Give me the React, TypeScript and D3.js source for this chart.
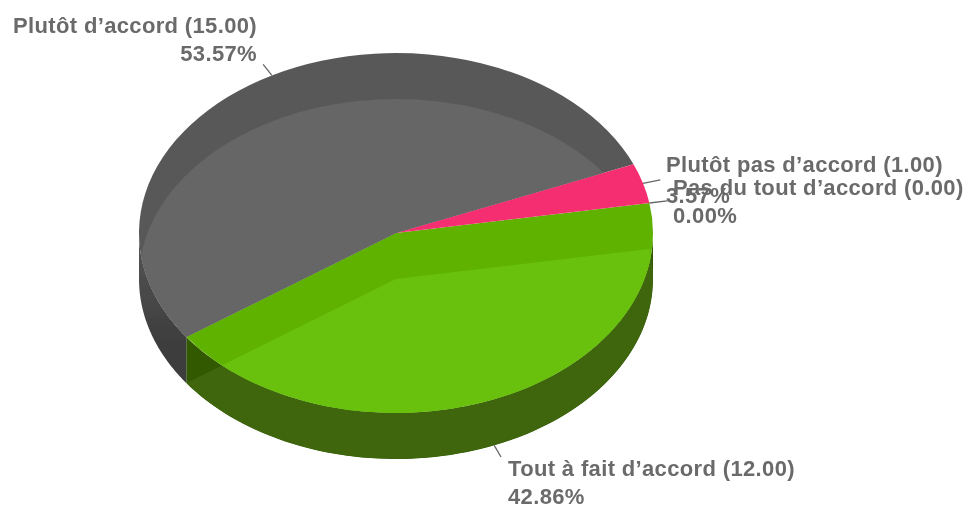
import React from 'react';
import * as d3 from 'd3';

// chart values
const categories = ["Tout à fait d’accord", "Plutôt d’accord", "Plutôt pas d’accord", "Pas du tout d’accord"];
const counts = [12, 15, 1, 0];
const percents = ["42.86%", "53.57%", "3.57%", "0.00%"];
const bandColors = ["#5eb300", "#595959", "#f42f6f", "#5eb300"];
const faceColors = ["#6ac10f", "#666666", "#f42f6f", "#6ac10f"];
const wallColors = ["#3f6610", "url(#greyWall)", "#8a1a40", "#3f6610"];
const wallInnerColor = "#305800";

const width = 970;
const height = 507;
const cx = 396;
const cy = 233;
const rx = 257;
const ry = 180;
const depth = 46;
const startAngle = (80.4 * Math.PI) / 180;

// label placement, one per category
const labelPos = [
  { x: 508, y: 476, y2: 504, anchor: "start" },
  { x: 257, y: 33, y2: 61, anchor: "end" },
  { x: 666, y: 172, y2: 203, anchor: "start" },
  { x: 673, y: 195, y2: 223, anchor: "start" },
];

const pie = d3.pie<number>().sort(null).startAngle(startAngle).endAngle(startAngle + 2 * Math.PI);
const arcs = pie(counts);
const arc = d3.arc<d3.PieArcDatum<number>>().innerRadius(0).outerRadius(rx);

const ellipseX = (a: number, k = 1) => cx + rx * k * Math.sin(a);
const ellipseY = (a: number, k = 1) => cy - ry * k * Math.cos(a);

// side wall of a slice, only the front half of the ellipse shows
const wallPath = (d: d3.PieArcDatum<number>) => {
  const pieces: string[] = [];
  const area = d3.area<number>()
    .x(a => ellipseX(a))
    .y0(a => ellipseY(a))
    .y1(a => ellipseY(a) + depth);
  [0, 2 * Math.PI].forEach(turn => {
    const from = Math.max(d.startAngle, Math.PI / 2 + turn);
    const to = Math.min(d.endAngle, (3 * Math.PI) / 2 + turn);
    if (to > from) {
      const steps = d3.range(0, 81).map(i => from + ((to - from) * i) / 80);
      pieces.push(area(steps) as string);
    }
  });
  return pieces.join(" ");
};

export default function App() {
  const sy = ry / rx;
  return (
    <svg width={width} height={height} style={{ position: 'absolute', left: 0, top: 0, background: '#fff' }}>
      <defs>
        <filter id="soft" x="-5%" y="-20%" width="110%" height="140%">
          <feGaussianBlur stdDeviation="0.6" />
        </filter>
        <filter id="edge" x="-5%" y="-5%" width="110%" height="110%">
          <feGaussianBlur stdDeviation="0.5" />
        </filter>
        <linearGradient id="greyWall" gradientUnits="userSpaceOnUse" x1="0" y1="235" x2="0" y2="350">
          <stop offset="0" stopColor="#565656" />
          <stop offset="1" stopColor="#3c3c3c" />
        </linearGradient>
        {arcs.map((d, i) => (
          <clipPath id={`top-${i}`} key={i}>
            <path d={arc(d) as string} transform={`translate(${cx},${cy}) scale(1,${sy})`} />
          </clipPath>
        ))}
        {arcs.map((d, i) => (
          <clipPath id={`wall-${i}`} key={i}>
            <path d={wallPath(d)} />
          </clipPath>
        ))}
      </defs>

      <g filter="url(#edge)">
        {/* walls */}
        {arcs.map((d, i) => (
          <path key={i} d={wallPath(d)} fill={i === 0 ? wallInnerColor : wallColors[i]} />
        ))}
        {/* floor of the green slice shows through its wall */}
        <g clipPath="url(#wall-0)">
          <path d={arc(arcs[0]) as string} transform={`translate(${cx},${cy + depth}) scale(1,${sy})`} fill={wallColors[0]} />
        </g>

        {/* top face: darker band, then the lighter part where the floor lies underneath */}
        {arcs.map((d, i) => (
          <path key={i} d={arc(d) as string} transform={`translate(${cx},${cy}) scale(1,${sy})`} fill={bandColors[i]} />
        ))}
        {arcs.map((d, i) => (
          <g key={i} clipPath={`url(#top-${i})`}>
            <path d={arc(d) as string} transform={`translate(${cx},${cy + depth}) scale(1,${sy})`} fill={faceColors[i]} />
          </g>
        ))}
      </g>

      {/* leader lines */}
      <g stroke="#666" strokeWidth={1.3} filter="url(#edge)">
        {arcs.map((d, i) => {
          const mid = (d.startAngle + d.endAngle) / 2;
          const drop = Math.cos(mid) < 0 && Math.abs(Math.sin(mid)) < 0.9 ? depth : 0;
          return (
            <line key={i}
              x1={ellipseX(mid, 1.0)} y1={ellipseY(mid, 1.0) + drop}
              x2={ellipseX(mid, 1.07)} y2={ellipseY(mid, 1.07) + drop} />
          );
        })}
      </g>

      {/* labels */}
      <g fontFamily="'Liberation Sans', Arial, sans-serif" fontSize={22} fontWeight="bold" letterSpacing={0.35} fill="#6b6b6b" filter="url(#soft)">
        {categories.map((c, i) => (
          <g key={c} textAnchor={labelPos[i].anchor}>
            <text x={labelPos[i].x} y={labelPos[i].y}>{`${c} (${d3.format(".2f")(counts[i])})`}</text>
            <text x={labelPos[i].x} y={labelPos[i].y2}>{percents[i]}</text>
          </g>
        ))}
      </g>
    </svg>
  );
}
